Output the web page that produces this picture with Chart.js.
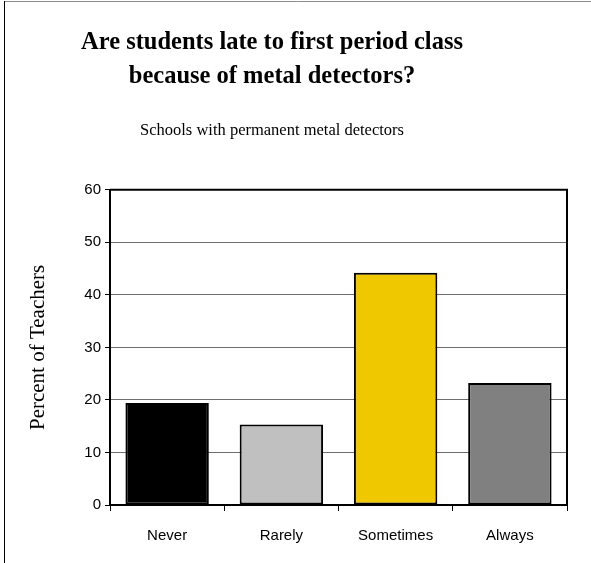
<!DOCTYPE html>
<html>
<head>
<meta charset="utf-8">
<script src="https://cdn.jsdelivr.net/npm/chart.js@4/dist/chart.umd.min.js"></script>
<style>
  html, body { margin: 0; padding: 0; background: #fff; overflow: hidden; }
</style>
</head>
<body>
<canvas id="lateChart" width="591" height="563"></canvas>
<script>
// data
var categories = ["Never", "Rarely", "Sometimes", "Always"];
var percentTeachers = [19.4, 15.3, 44.2, 23.2];
var barColors = ["#000000", "#c0c0c0", "#f0c800", "#808080"];
var yTicks = [0, 10, 20, 30, 40, 50, 60];

//outer frame lines + box round the plot
var framePlugin = {
    id: "frame",
    beforeDraw: function (chart) {
        var c = chart.ctx;
        c.save();
        c.fillStyle = "#fff";
        c.fillRect(0, 0, chart.width, chart.height);
        c.strokeStyle = "#8c8c8c";
        c.lineWidth = 1;
        c.beginPath();
        c.moveTo(4, 1.5);
        c.lineTo(chart.width, 1.5);
        c.stroke();
        c.strokeStyle = "#000";
        c.beginPath();
        c.moveTo(4.5, 1);
        c.lineTo(4.5, chart.height);
        c.stroke();
        c.restore();
    },
    afterDraw: function (chart) {
        var a = chart.chartArea;
        var c = chart.ctx;
        c.save();
        c.strokeStyle = "#000";
        c.lineWidth = 2;
        c.beginPath();
        c.moveTo(a.left, a.top);
        c.lineTo(a.right, a.top);
        c.lineTo(a.right, a.bottom);
        c.stroke();
        c.restore();
    }
};

var ctx = document.getElementById("lateChart").getContext("2d");
window.lateChart = new Chart(ctx, {
    type: "bar",
    data: {
        labels: categories,
        datasets: [
            {
                label: "Percent of Teachers",
                data: percentTeachers,
                backgroundColor: barColors,
                borderColor: "#000",
                borderWidth: 2,
                borderSkipped: false,
                barPercentage: 0.73,
                categoryPercentage: 1
            }
        ]
    },
    options: {
        responsive: false,
        animation: false,
        // negative left padding + wide y axis keeps the titles centred a bit left, like the original
        layout: { padding: { left: -23, right: 24, bottom: 2, top: 0 } },
        plugins: {
            legend: { display: false },
            tooltip: { enabled: false },
            title: {
                display: true,
                text: ["Are students late to first period class", "because of metal detectors?"],
                color: "#000",
                font: { family: "'Liberation Serif', serif", size: 24.5, weight: "bold", lineHeight: 1.4 },
                padding: { top: 25.5, bottom: 0 }
            },
            subtitle: {
                display: true,
                text: "Schools with permanent metal detectors",
                color: "#000",
                font: { family: "'Liberation Serif', serif", size: 16.5, lineHeight: 1.2 },
                padding: { top: 26.4, bottom: 49.5 }
            }
        },
        scales: {
            x: {
                grid: { offset: true, drawOnChartArea: false, color: "#000", tickLength: 6, lineWidth: 1 },
                border: { display: true, color: "#000", width: 2 },
                ticks: { color: "#000", font: { family: "'Liberation Sans', Arial, sans-serif", size: 15 }, padding: 16 }
            },
            y: {
                min: 0,
                max: 60,
                afterBuildTicks: function (scale) {
                    scale.ticks = yTicks.map(function (v) { return { value: v }; });
                },
                grid: { color: "#6e6e6e", lineWidth: 1, tickLength: 5, tickColor: "#000" },
                border: { display: true, color: "#000", width: 2 },
                ticks: { color: "#000", font: { family: "'Liberation Sans', Arial, sans-serif", size: 15 }, padding: 4 },
                title: {
                    display: true,
                    text: "Percent of Teachers",
                    color: "#000",
                    font: { family: "'Liberation Serif', serif", size: 21 },
                    padding: { top: 49, bottom: 0 }
                },
                afterFit: function (scale) { scale.width = 133; }
            }
        }
    },
    plugins: [framePlugin]
});
</script>
</body>
</html>
